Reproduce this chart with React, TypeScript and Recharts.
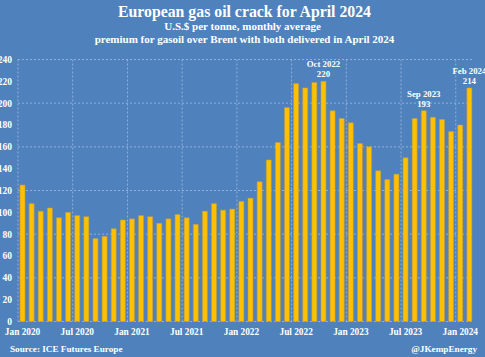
import React from "react";
import {
  BarChart,
  Bar,
  XAxis,
  YAxis,
  CartesianGrid,
  LabelList,
} from "recharts";

// monthly categories, Jan 2020 .. Feb 2024
const months = [
  "Jan 2020", "Feb 2020", "Mar 2020", "Apr 2020", "May 2020", "Jun 2020",
  "Jul 2020", "Aug 2020", "Sep 2020", "Oct 2020", "Nov 2020", "Dec 2020",
  "Jan 2021", "Feb 2021", "Mar 2021", "Apr 2021", "May 2021", "Jun 2021",
  "Jul 2021", "Aug 2021", "Sep 2021", "Oct 2021", "Nov 2021", "Dec 2021",
  "Jan 2022", "Feb 2022", "Mar 2022", "Apr 2022", "May 2022", "Jun 2022",
  "Jul 2022", "Aug 2022", "Sep 2022", "Oct 2022", "Nov 2022", "Dec 2022",
  "Jan 2023", "Feb 2023", "Mar 2023", "Apr 2023", "May 2023", "Jun 2023",
  "Jul 2023", "Aug 2023", "Sep 2023", "Oct 2023", "Nov 2023", "Dec 2023",
  "Jan 2024", "Feb 2024",
];

// crack spread, US$ per tonne
const crack = [
  125, 108, 101, 104, 95, 100, 97, 96, 76, 78, 85, 93,
  94, 97, 96, 90, 94, 98, 95, 89, 101, 108, 102, 103,
  110, 113, 128, 148, 164, 196, 218, 214, 219, 220, 193, 186,
  182, 163, 160, 138, 130, 135, 150, 186, 193, 187, 185, 174,
  180, 214,
];

const yTicks = [0, 20, 40, 60, 80, 100, 120, 140, 160, 180, 200, 220, 240];

// months that get a callout above the bar
const callouts = ["Oct 2022", "Sep 2023", "Feb 2024"];

const data = months.map((m, i) => ({ month: m, value: crack[i] }));

const FONT = "'Liberation Serif', 'DejaVu Serif', serif";
const BG = "#4F81BD";

const Callout = (props: any) => {
  const { x, y, width, index } = props;
  const d = data[index];
  if (!d || !callouts.includes(d.month)) return null;
  const cx = x + width / 2;
  return (
    <g fontFamily={FONT} fontWeight="bold" fontSize={8.8} fill="#fff">
      <text x={cx} y={y - 14} textAnchor="middle">{d.month}</text>
      <text x={cx} y={y - 4} textAnchor="middle">{d.value}</text>
    </g>
  );
};

export default function App() {
  return (
    <div
      style={{
        position: "absolute",
        left: 0,
        top: 0,
        width: 485,
        height: 357,
        background: BG,
        overflow: "hidden",
        fontFamily: FONT,
        color: "#fff",
        fontWeight: "bold",
      }}
    >
      <div style={{ position: "absolute", top: 2, width: 485, textAlign: "center", fontSize: 15.8, lineHeight: "20px", paddingLeft: 2 }}>
        European gas oil crack for April 2024
      </div>
      <div style={{ position: "absolute", top: 19, width: 485, textAlign: "center", fontSize: 11, lineHeight: "14px" }}>
        U.S.$ per tonne, monthly average
      </div>
      <div style={{ position: "absolute", top: 32, width: 485, textAlign: "center", fontSize: 11, lineHeight: "14px", paddingLeft: 2 }}>
        premium for gasoil over Brent with both delivered in April 2024
      </div>

      <BarChart
        width={485}
        height={357}
        data={data}
        margin={{ top: 59.5, right: 11, left: 0, bottom: 15.5 }}
        barCategoryGap="22%"
      >
        <CartesianGrid
          stroke="#a3bbdd"
          strokeDasharray="2 2"
          strokeWidth={0.8}
          horizontalValues={yTicks}
          verticalCoordinatesGenerator={(p: any) => {
            const left = p?.offset?.left ?? 18;
            const w = p?.offset?.width ?? 456;
            return [0, 6, 12, 18, 24, 30, 36, 42, 48].map((i) => left + (w * i) / months.length);
          }}
        />
        <XAxis
          dataKey="month"
          interval={5}
          height={20}
          axisLine={false}
          tickLine={false}
          tickSize={5}
          tickMargin={2}
          tick={{ fill: "#fff", fontSize: 9.3, fontFamily: FONT, fontWeight: "bold" }}
        />
        <YAxis
          width={18}
          domain={[0, 240]}
          ticks={yTicks}
          axisLine={false}
          tickLine={false}
          tickSize={4}
          tickMargin={2}
          tick={{ fill: "#fff", fontSize: 9.5, fontFamily: FONT, fontWeight: "bold" }}
        />
        <Bar
          dataKey="value"
          fill="#FFC000"
          stroke="#B89B4A"
          strokeWidth={0.6}
          isAnimationActive={false}
        >
          <LabelList dataKey="value" content={<Callout />} />
        </Bar>
      </BarChart>

      <div style={{ position: "absolute", left: 10, top: 344, fontSize: 9.2 }}>
        Source: ICE Futures Europe
      </div>
      <div style={{ position: "absolute", right: 8, top: 344, fontSize: 9.2 }}>
        @JKempEnergy
      </div>
    </div>
  );
}
